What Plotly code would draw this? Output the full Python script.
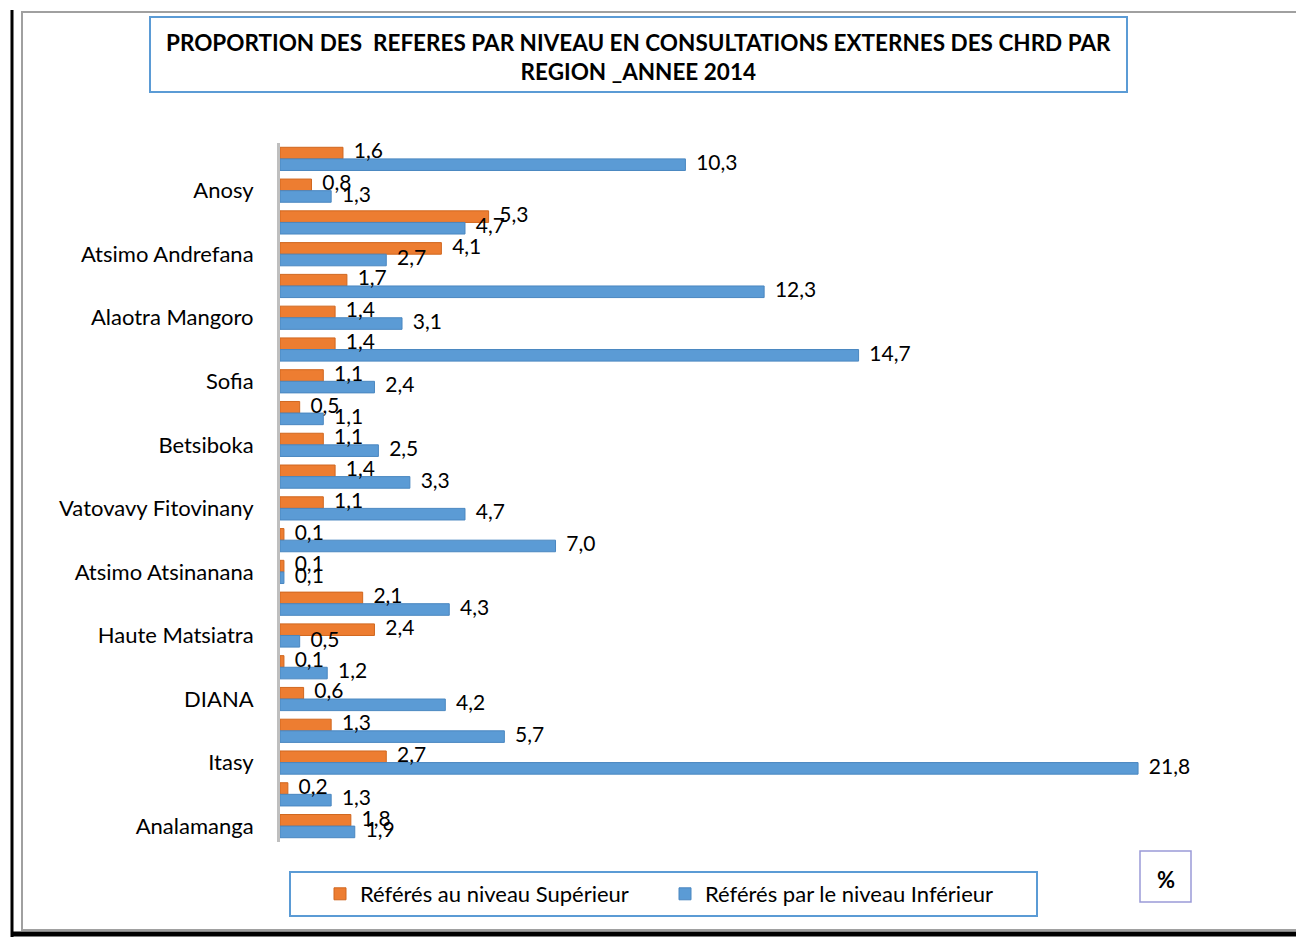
import plotly.graph_objects as go

# categories top to bottom (only every other one is labelled in the source)
regions = ["", "Anosy", "", "Atsimo Andrefana", "", "Alaotra Mangoro", "", "Sofia",
           "", "Betsiboka", "", "Vatovavy Fitovinany", "", "Atsimo Atsinanana",
           "", "Haute Matsiatra", "", "DIANA", "", "Itasy", "", "Analamanga"]
superieur = [1.6, 0.8, 5.3, 4.1, 1.7, 1.4, 1.4, 1.1, 0.5, 1.1, 1.4,
             1.1, 0.1, 0.1, 2.1, 2.4, 0.1, 0.6, 1.3, 2.7, 0.2, 1.8]
inferieur = [10.3, 1.3, 4.7, 2.7, 12.3, 3.1, 14.7, 2.4, 1.1, 2.5, 3.3,
             4.7, 7.0, 0.1, 4.3, 0.5, 1.2, 4.2, 5.7, 21.8, 1.3, 1.9]

pos = list(range(len(regions)))
tick_pos = [p for p, r in zip(pos, regions) if r]
tick_txt = [r for r in regions if r]

FONT = "Lato"
GAP = 0.27

series = [
    ("Référés au niveau Supérieur", superieur, "#ED7D31", "#D0671F", "sup"),
    ("Référés par le niveau Inférieur", inferieur, "#5B9BD5", "#4A87C0", "inf"),
]

fig = go.Figure()
for name, vals, col, edge, grp in series:
    fig.add_trace(go.Bar(y=pos, x=vals, orientation="h", name=name, offsetgroup=grp,
                         marker=dict(color=col, line=dict(color=edge, width=1))))
# value labels drawn on top of all bars (as in the source)
for name, vals, col, edge, grp in series:
    fig.add_trace(go.Scatter(y=pos, x=vals, mode="text", orientation="h", offsetgroup=grp,
                             showlegend=False,
                             text=[f"\u00a0\u00a0{v:.1f}".replace(".", ",") for v in vals],
                             textposition="middle right", cliponaxis=False, hoverinfo="skip",
                             textfont=dict(size=21, color="black", family=FONT)))

# helpers to convert pixel positions to paper coords
L, R, T, B = 280, 32, 143, 95
W, H = 1296, 937
pw, ph = W - L - R, H - T - B
px = lambda x: (x - L) / pw
py = lambda y: (H - B - y) / ph

shapes = [
    dict(type="rect", x0=px(22), x1=px(1300), y0=py(930), y1=py(12),
         line=dict(color="#A0A0A0", width=2)),
    dict(type="line", x0=px(12), x1=px(12), y0=py(937), y1=py(10),
         line=dict(color="black", width=3)),
    dict(type="line", x0=px(12), x1=px(1300), y0=py(934), y1=py(934),
         line=dict(color="black", width=5)),
    dict(type="rect", x0=px(150), x1=px(1127), y0=py(92), y1=py(17),
         line=dict(color="#5B9BD5", width=2)),
    dict(type="rect", x0=px(290), x1=px(1037), y0=py(916), y1=py(872),
         line=dict(color="#5B9BD5", width=2)),
    dict(type="rect", x0=px(1140), x1=px(1191), y0=py(902), y1=py(851),
         line=dict(color="#9A9AD8", width=1.5)),
]
for s in shapes:
    s.update(xref="paper", yref="paper")

annotations = [
    dict(text="<b>PROPORTION DES  REFERES PAR NIVEAU EN CONSULTATIONS EXTERNES DES CHRD PAR<br>REGION _ANNEE 2014</b>",
         x=px(638), y=py(57), xref="paper", yref="paper", xanchor="center", yanchor="middle",
         showarrow=False, font=dict(size=22.5, color="black", family=FONT), align="center"),
    dict(text="<b>%</b>", x=px(1166), y=py(879), xref="paper", yref="paper",
         xanchor="center", yanchor="middle", showarrow=False,
         font=dict(size=22, color="black", family=FONT)),
]

fig.update_layout(
    width=W, height=H,
    margin=dict(l=L, r=R, t=T, b=B),
    paper_bgcolor="white", plot_bgcolor="white",
    separators=", ",
    barmode="group", bargap=GAP, bargroupgap=0,
    scattermode="group", scattergap=GAP,
    showlegend=True,
    legend=dict(orientation="h", x=px(320), y=py(894), xanchor="left", yanchor="middle",
                font=dict(size=22, color="black", family=FONT), entrywidth=300,
                bgcolor="rgba(0,0,0,0)"),
    shapes=shapes, annotations=annotations,
    xaxis=dict(range=[0, 25], showgrid=False, showticklabels=False, zeroline=False,
               showline=False, ticks=""),
    yaxis=dict(range=[len(regions) - 0.5, -0.5], tickvals=tick_pos, ticktext=tick_txt,
               showgrid=False, zeroline=False, showline=True, linecolor="#BFBFBF",
               linewidth=3, ticks="", ticklabelstandoff=19,
               tickfont=dict(size=22, color="black", family=FONT)),
    font=dict(family=FONT),
)

fig.write_html("out.html", post_script="document.body.style.margin='0';",
               config={"displayModeBar": False})
